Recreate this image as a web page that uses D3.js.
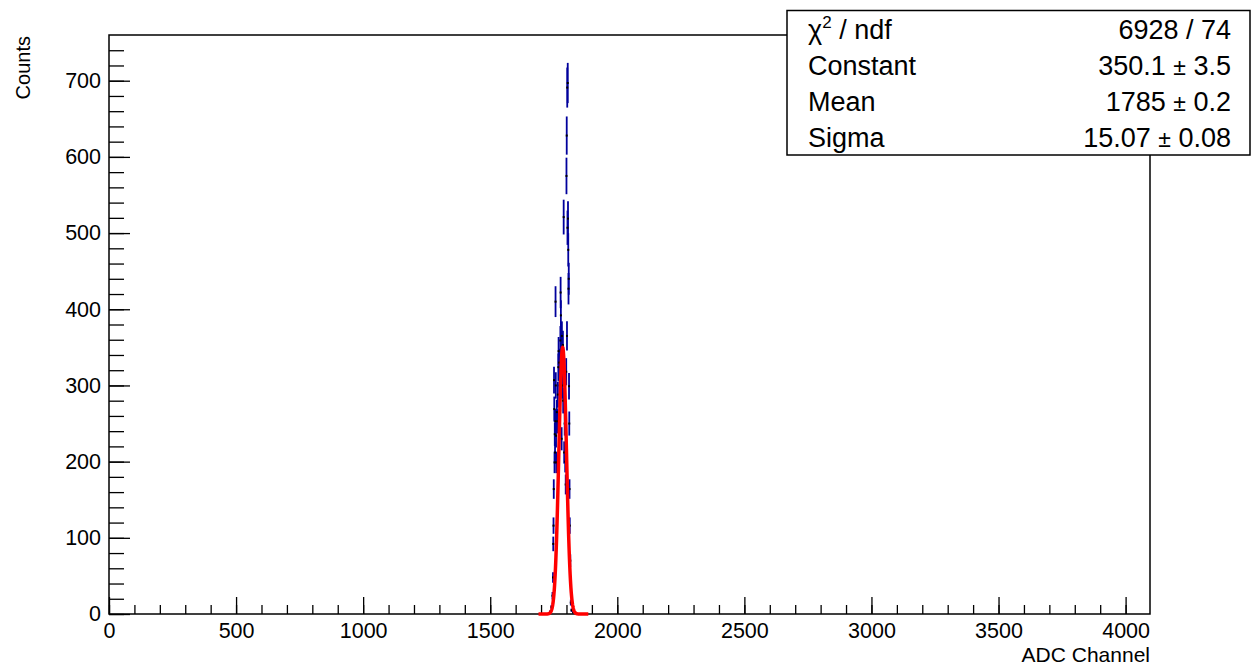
<!DOCTYPE html>
<html>
<head>
<meta charset="utf-8">
<script src="https://cdn.jsdelivr.net/npm/d3@7"></script>
<style>
  body { margin: 0; background: #fff; }
  text { font-family: "Liberation Sans", Arial, Helvetica, sans-serif; }
</style>
</head>
<body>
<script>
// histogram bins (ADC channel, counts)
var binCenters = [1736, 1741, 1745, 1747, 1748, 1749, 1750, 1751, 1752, 1753,
                  1754, 1755, 1756, 1757, 1758, 1759, 1760, 1762, 1764, 1766,
                  1768, 1769, 1771, 1773, 1775, 1776, 1777, 1778, 1779, 1781,
                  1782, 1784, 1786, 1787, 1789, 1791, 1793, 1795, 1797, 1799,
                  1800, 1801, 1802, 1803, 1804, 1805, 1806, 1807, 1808, 1809,
                  1810, 1811, 1812, 1813, 1815, 1817, 1820, 1826];
var binCounts  = [3, 9, 24, 48, 92, 116, 164, 307, 269, 199,
                  236, 212, 253, 410, 300, 234, 199, 265, 253, 288,
                  324, 345, 330, 300, 267, 359, 422, 392, 340, 230,
                  365, 300, 353, 280, 521, 212, 250, 200, 170, 318,
                  575, 628, 365, 691, 507, 697, 519, 478, 427, 440,
                  299, 250, 164, 116, 70, 15, 5, 2];

// gaussian fit result shown in the stats box
var fitConstant = 350.1, fitMean = 1785, fitSigma = 15.07;
var fitRange = [1690, 1886];

var statsNames  = ['/ ndf', 'Constant', 'Mean', 'Sigma'];
var statsValues = [['6928 / 74'], ['350.1', '3.5'], ['1785', '0.2'], ['15.07', '0.08']];

var xMajorTicks = d3.range(0, 4001, 500);
var xMinorTicks = d3.range(0, 4096, 100);
var yMajorTicks = d3.range(0, 701, 100);
var yMinorTicks = d3.range(0, 760, 20);

var W = 1256, H = 666;
var frame = {left: 109, right: 1150, top: 35, bottom: 614};

var xScale = d3.scaleLinear().domain([0, 4096]).range([frame.left, frame.right]);
var yScale = d3.scaleLinear().domain([0, 760]).range([frame.bottom, frame.top]);

var svg = d3.select('body').append('svg')
    .attr('width', W)
    .attr('height', H)
    .style('display', 'block');

svg.append('rect').attr('width', W).attr('height', H).attr('fill', '#fff');

// minor ticks
svg.append('g')
    .attr('transform', 'translate(0,' + frame.bottom + ')')
    .call(d3.axisBottom(xScale).tickValues(xMinorTicks).tickFormat('').tickSize(-9))
    .call(function(g) { g.select('.domain').remove(); });
svg.append('g')
    .attr('transform', 'translate(' + frame.left + ',0)')
    .call(d3.axisLeft(yScale).tickValues(yMinorTicks).tickFormat('').tickSize(-15))
    .call(function(g) { g.select('.domain').remove(); });

// major ticks + labels
var xAxis = svg.append('g')
    .attr('transform', 'translate(0,' + frame.bottom + ')')
    .call(d3.axisBottom(xScale).tickValues(xMajorTicks).tickFormat(d3.format('d'))
      .tickSize(-17).tickPadding(9));
var yAxis = svg.append('g')
    .attr('transform', 'translate(' + frame.left + ',0)')
    .call(d3.axisLeft(yScale).tickValues(yMajorTicks).tickFormat(d3.format('d'))
      .tickSize(-21).tickPadding(8));

[xAxis, yAxis].forEach(function(g) {
  g.select('.domain').remove();
  g.selectAll('.tick text')
      .style('font-family', '"Liberation Sans", Arial, sans-serif')
      .style('font-size', '21.5px')
      .attr('fill', '#000');
});
svg.selectAll('.tick line').attr('stroke', '#000').attr('stroke-width', 1.3);

// frame
svg.append('rect')
    .attr('x', frame.left).attr('y', frame.top)
    .attr('width', frame.right - frame.left)
    .attr('height', frame.bottom - frame.top)
    .attr('fill', 'none')
    .attr('stroke', '#000')
    .attr('stroke-width', 1.5);

// axis titles
svg.append('text')
    .attr('x', frame.right)
    .attr('y', 661.5)
    .attr('text-anchor', 'end')
    .style('font-size', '21px')
    .text('ADC Channel');

svg.append('text')
    .attr('transform', 'translate(30,' + (frame.top + 1) + ') rotate(-90)')
    .attr('text-anchor', 'end')
    .style('font-size', '20px')
    .text('Counts');

// data points with sqrt(N) errors
var bins = binCenters.map(function(c, i) { return {x: c, y: binCounts[i]}; });

svg.append('g').selectAll('line')
    .data(bins)
  .enter().append('line')
    .attr('x1', function(d) { return xScale(d.x); })
    .attr('x2', function(d) { return xScale(d.x); })
    .attr('y1', function(d) { return yScale(d.y + Math.sqrt(d.y)); })
    .attr('y2', function(d) { return yScale(Math.max(0, d.y - Math.sqrt(d.y))); })
    .attr('stroke', '#00009c')
    .attr('stroke-width', 1.8);

svg.append('g').selectAll('rect')
    .data(bins)
  .enter().append('rect')
    .attr('x', function(d) { return xScale(d.x) - 1; })
    .attr('y', function(d) { return yScale(d.y) - 1; })
    .attr('width', 2)
    .attr('height', 2)
    .attr('fill', '#000');

// fit curve
var fitPts = d3.range(0, 201).map(function(i) {
  var x = fitRange[0] + (fitRange[1] - fitRange[0]) * i / 200;
  var z = (x - fitMean) / fitSigma;
  return [x, fitConstant * Math.exp(-0.5 * z * z)];
});
svg.append('path')
    .datum(fitPts)
    .attr('fill', 'none')
    .attr('stroke', '#ff0000')
    .attr('stroke-width', 3.5)
    .attr('stroke-linejoin', 'round')
    .attr('d', d3.line()
      .x(function(d) { return xScale(d[0]); })
      .y(function(d) { return yScale(d[1]); }));

// stats box
var box = {x: 787, y: 10.5, w: 463, h: 144.5};
svg.append('rect')
    .attr('x', box.x).attr('y', box.y)
    .attr('width', box.w).attr('height', box.h)
    .attr('fill', '#fff')
    .attr('stroke', '#000')
    .attr('stroke-width', 1.5);

var rowBase = [39, 75, 111, 147];
statsNames.forEach(function(name, i) {
  var t = svg.append('text')
      .attr('x', 808)
      .attr('y', rowBase[i])
      .style('font-size', '27px');
  if (i === 0) {
    t.append('tspan').text('\u03c7');
    t.append('tspan').attr('dy', -11).style('font-size', '17px').text('2');
    t.append('tspan').attr('dy', 11).text(' ' + name);
  } else {
    t.text(name);
  }

  var v = svg.append('text')
      .attr('x', 1231)
      .attr('y', rowBase[i])
      .attr('text-anchor', 'end')
      .style('font-size', '27px');
  var vals = statsValues[i];
  if (vals.length === 1) {
    v.text(vals[0]);
  } else {
    v.append('tspan').text(vals[0] + ' ');
    v.append('tspan').style('font-size', '23px').text('\u00b1');
    v.append('tspan').text(' ' + vals[1]);
  }
});
</script>
</body>
</html>
